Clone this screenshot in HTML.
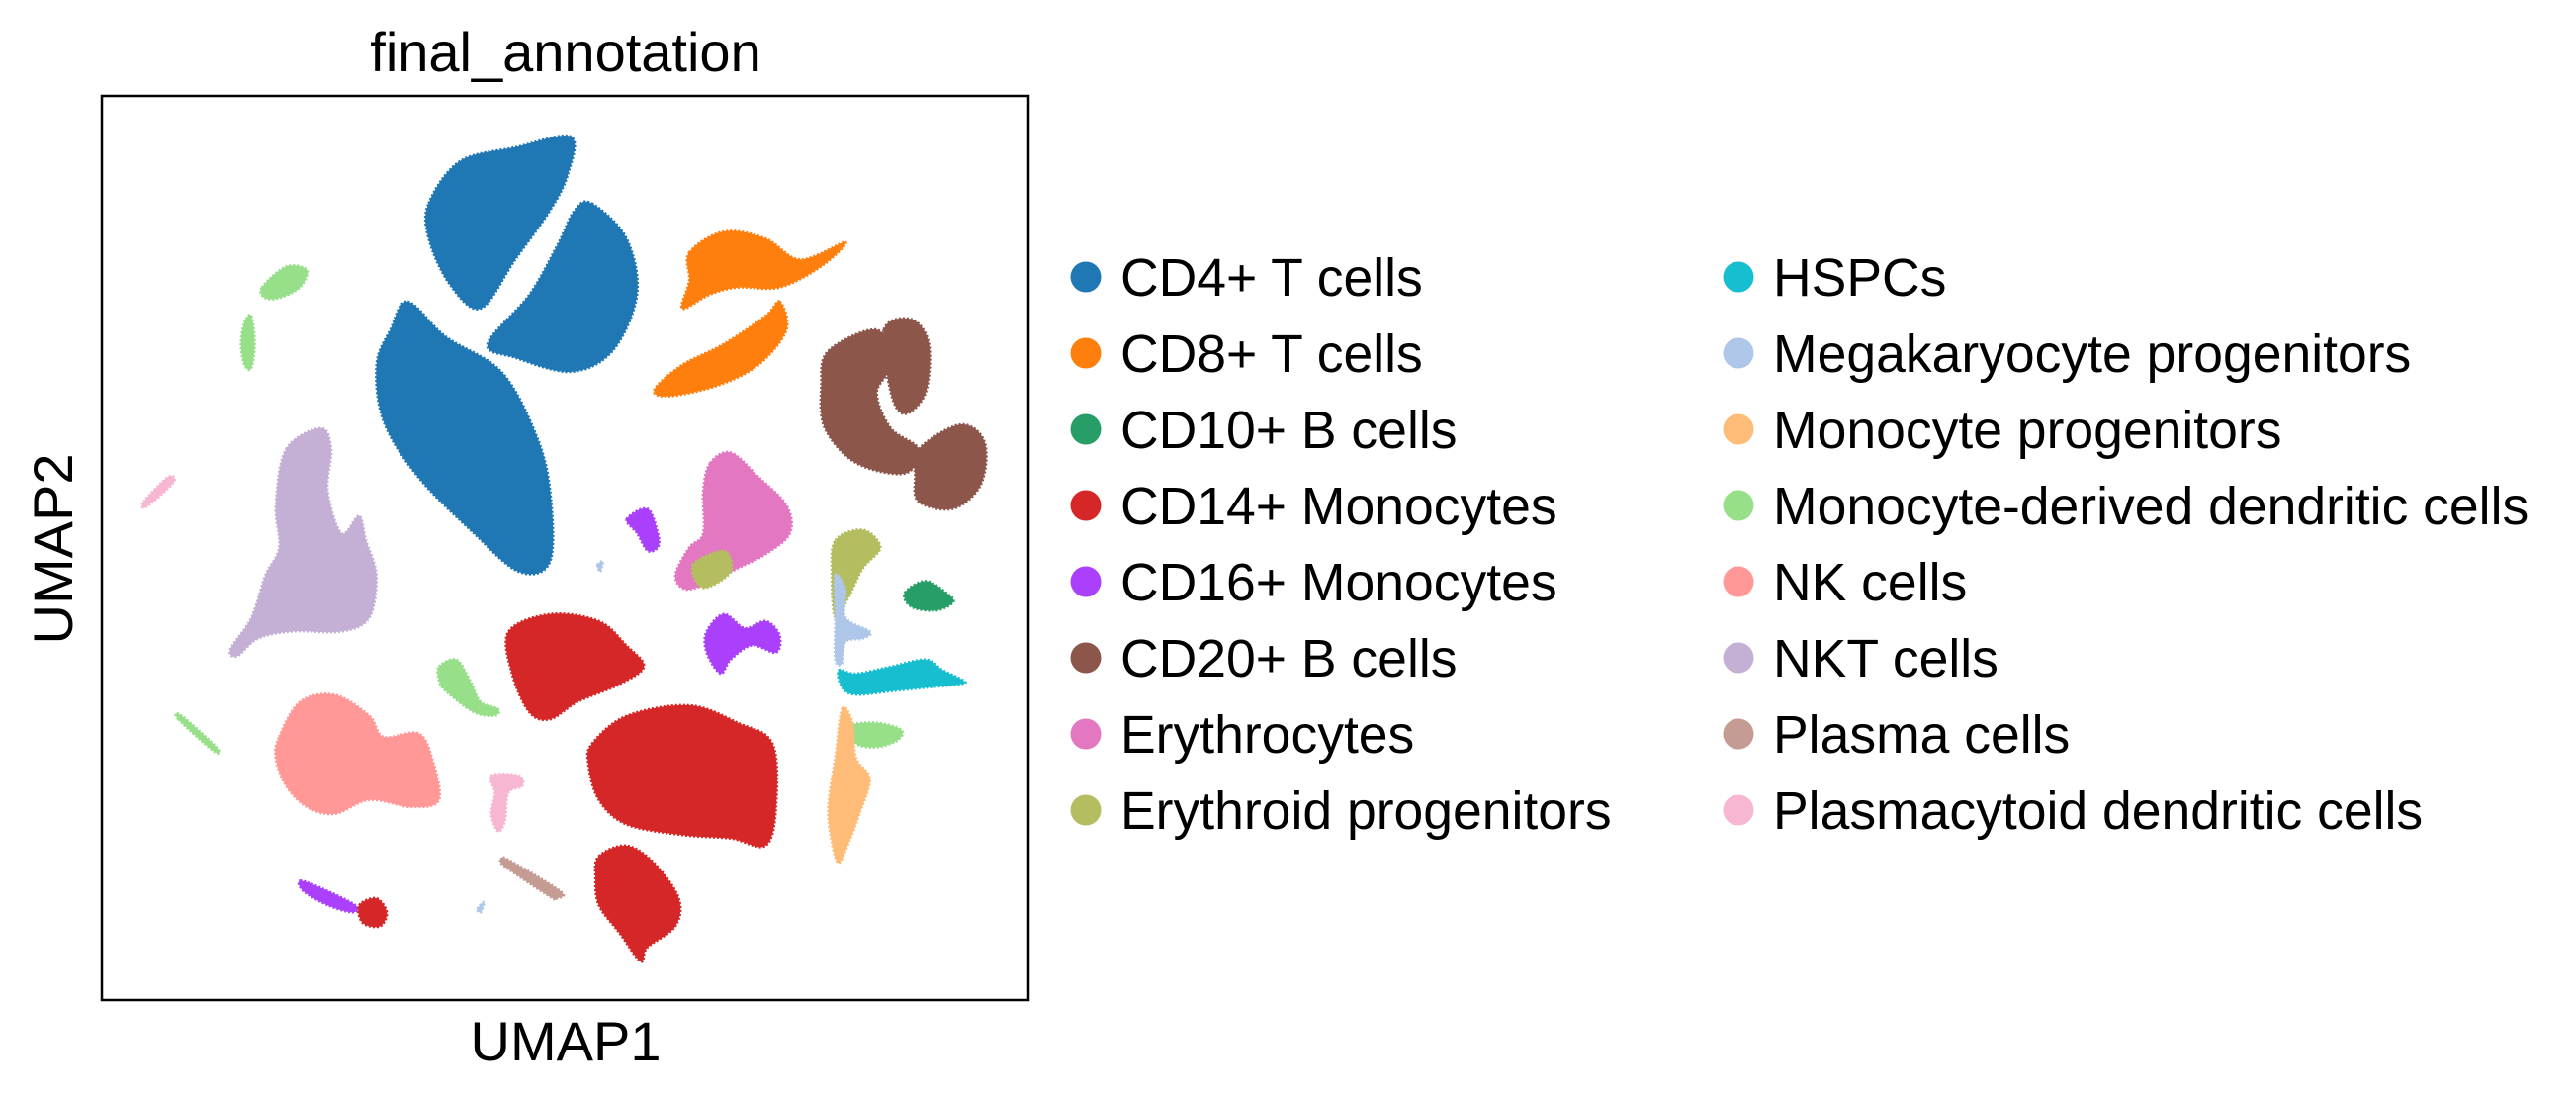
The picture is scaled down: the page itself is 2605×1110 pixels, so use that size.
<!DOCTYPE html>
<html><head><meta charset="utf-8"><style>
html,body{margin:0;padding:0;background:#fff;}
svg{display:block;font-family:"Liberation Sans",Arial,sans-serif;}
</style></head><body>
<svg id="chart" width="2605" height="1110" viewBox="0 0 2605 1110">
<rect x="0" y="0" width="2605" height="1110" fill="#fff"/>
<text x="572" y="72" font-size="56" text-anchor="middle">final_annotation</text>
<g id="clusters"></g>
<rect x="103" y="97" width="937" height="914" fill="none" stroke="#000" stroke-width="2.5"/>
<text x="572" y="1072" font-size="56" text-anchor="middle">UMAP1</text>
<text x="0" y="0" font-size="56" text-anchor="middle" transform="translate(73,555) rotate(-90)">UMAP2</text>
<g id="legend"></g>
</svg>
<script>
const categories = ["CD4+ T cells","CD8+ T cells","CD10+ B cells","CD14+ Monocytes","CD16+ Monocytes","CD20+ B cells","Erythrocytes","Erythroid progenitors","HSPCs","Megakaryocyte progenitors","Monocyte progenitors","Monocyte-derived dendritic cells","NK cells","NKT cells","Plasma cells","Plasmacytoid dendritic cells"];
const colors = ["#1f77b4","#ff7f0e","#279e68","#d62728","#aa40fc","#8c564b","#e377c2","#b5bd61","#17becf","#aec7e8","#ffbb78","#98df8a","#ff9896","#c5b0d5","#c49c94","#f7b6d2"];
// cluster outlines in UMAP coordinates (arbitrary embedding units)
const clusterCategory = [0,0,0,1,1,5,5,5,6,7,7,4,4,4,3,3,3,3,13,12,11,11,11,11,11,15,15,14,9,9,9,8,10,2];
const clusterOutlines = [
 [[615,290],[660,230],[740,210],[820,195],[815,250],[790,300],[740,370],[690,440],[645,405],[615,340]],
 [[850,290],[900,340],[915,420],[880,500],[820,530],[740,510],[700,490],[760,420],[800,350],[825,300]],
 [[585,430],[640,480],[720,530],[770,620],[790,700],[790,800],[745,815],[680,760],[600,680],[550,600],[540,520],[560,470]],
 [[990,360],[1040,330],[1100,340],[1150,370],[1215,345],[1180,380],[1120,410],[1060,410],[1020,420],[980,440],[990,400]],
 [[1120,430],[1130,470],[1090,520],[1030,550],[960,565],[940,555],[980,520],[1040,490],[1100,450]],
 [[1190,500],[1260,470],[1280,520],[1260,560],[1280,610],[1320,640],[1300,675],[1230,660],[1185,610],[1180,550]],
 [[1270,470],[1310,455],[1335,490],[1330,560],[1300,590],[1280,560]],
 [[1320,640],[1380,605],[1415,630],[1410,690],[1370,725],[1320,715],[1315,680]],
 [[1020,660],[1050,645],[1090,680],[1130,720],[1135,760],[1100,790],[1060,810],[1020,830],[985,840],[970,820],[990,780],[1010,760],[1010,700]],
 [[995,805],[1040,785],[1050,815],[1010,838]],
 [[1200,770],[1240,755],[1265,780],[1240,810],[1220,850],[1200,880],[1195,820]],
 [[900,740],[930,725],[945,760],[945,780],[930,785],[915,760]],
 [[1015,900],[1040,875],[1070,895],[1100,885],[1120,905],[1115,930],[1080,920],[1050,940],[1035,960],[1015,930]],
 [[430,1255],[460,1265],[510,1290],[505,1300],[470,1290],[435,1270]],
 [[730,900],[790,875],[860,885],[900,920],[925,950],[890,975],[830,1000],[790,1025],[760,1015],[735,960]],
 [[850,1060],[900,1020],[990,1005],[1060,1030],[1110,1060],[1115,1150],[1100,1205],[1050,1195],[980,1190],[900,1175],[860,1140],[845,1090]],
 [[860,1220],[900,1205],[940,1230],[975,1280],[970,1320],[930,1350],[920,1370],[890,1330],[860,1290],[855,1250]],
 [[515,1290],[540,1280],[555,1300],[545,1320],[520,1315]],
 [[410,640],[460,610],[475,640],[470,700],[490,760],[515,735],[525,770],[540,820],[530,880],[490,900],[420,900],[370,910],[340,935],[330,925],[360,880],[380,820],[400,780],[395,720]],
 [[400,1050],[430,1000],[480,990],[530,1020],[550,1050],[600,1045],[620,1080],[630,1140],[590,1150],[530,1140],[480,1160],[440,1150],[410,1120],[395,1080]],
 [[375,410],[410,380],[440,385],[430,410],[400,425],[380,425]],
 [[350,460],[360,450],[365,490],[360,525],[350,520],[345,490]],
 [[630,950],[655,940],[675,970],[690,1000],[715,1010],[710,1020],[680,1015],[640,985],[630,970]],
 [[255,1025],[260,1020],[310,1065],[305,1070]],
 [[1220,1035],[1260,1030],[1295,1040],[1290,1055],[1260,1065],[1230,1060]],
 [[205,715],[240,680],[248,688],[210,722]],
 [[705,1105],[745,1105],[750,1120],[730,1130],[725,1170],[715,1185],[705,1160],[710,1130]],
 [[720,1225],[730,1225],[805,1270],[800,1280],[790,1278],[725,1235]],
 [[1200,820],[1215,840],[1215,880],[1250,900],[1240,910],[1215,915],[1210,945],[1200,940],[1200,880]],
 [[858,805],[866,800],[862,815]],
 [[685,1295],[695,1285],[690,1300]],
 [[1205,955],[1230,960],[1280,950],[1330,940],[1355,955],[1385,970],[1380,975],[1330,980],[1280,985],[1230,990],[1210,980]],
 [[1210,1010],[1225,1030],[1230,1080],[1250,1110],[1235,1160],[1220,1200],[1205,1230],[1195,1200],[1190,1150],[1200,1080]],
 [[1300,845],[1330,828],[1360,845],[1370,858],[1345,870],[1310,865]]
];
const xDomain = [145,1478], yDomain = [137,1425];
const xRange = [103,1040], yRange = [97,1011];
function xScale(v){return xRange[0]+(v-xDomain[0])/(xDomain[1]-xDomain[0])*(xRange[1]-xRange[0]);}
function yScale(v){return yRange[0]+(v-yDomain[0])/(yDomain[1]-yDomain[0])*(yRange[1]-yRange[0]);}
const NS="http://www.w3.org/2000/svg";
function smoothPath(pts){
  const n=pts.length; let d="M"+pts[0][0].toFixed(1)+","+pts[0][1].toFixed(1);
  for(let i=0;i<n;i++){
    const p0=pts[(i-1+n)%n],p1=pts[i],p2=pts[(i+1)%n],p3=pts[(i+2)%n];
    const c1=[p1[0]+(p2[0]-p0[0])/6,p1[1]+(p2[1]-p0[1])/6];
    const c2=[p2[0]-(p3[0]-p1[0])/6,p2[1]-(p3[1]-p1[1])/6];
    d+=" C"+c1[0].toFixed(1)+","+c1[1].toFixed(1)+" "+c2[0].toFixed(1)+","+c2[1].toFixed(1)+" "+p2[0].toFixed(1)+","+p2[1].toFixed(1);
  }
  return d+"Z";
}
const g=document.getElementById("clusters");
clusterOutlines.forEach((poly,i)=>{
  const pts=poly.map(p=>[xScale(p[0]),yScale(p[1])]);
  const path=document.createElementNS(NS,"path");
  path.setAttribute("d",smoothPath(pts));
  const col=colors[clusterCategory[i]];
  path.setAttribute("fill",col);
  path.setAttribute("stroke",col);
  path.setAttribute("stroke-width","2.5");
  path.setAttribute("stroke-dasharray","2 2");
  
  
  g.appendChild(path);
});
const lg=document.getElementById("legend");
categories.forEach((c,i)=>{
  const col=Math.floor(i/8), row=i%8;
  const cx=col===0?1098:1758, tx=col===0?1133:1793, cy=280+row*77;
  const item=document.createElementNS(NS,"g");
  
  
  const circ=document.createElementNS(NS,"circle");
  circ.setAttribute("cx",cx);circ.setAttribute("cy",cy);circ.setAttribute("r",15.5);
  circ.setAttribute("fill",colors[i]);
  
  
  const t=document.createElementNS(NS,"text");
  t.setAttribute("x",tx);t.setAttribute("y",cy+19);t.setAttribute("font-size","53.5");
  t.textContent=c;
  
  
  item.appendChild(circ);item.appendChild(t);lg.appendChild(item);
});
</script>
</body></html>
